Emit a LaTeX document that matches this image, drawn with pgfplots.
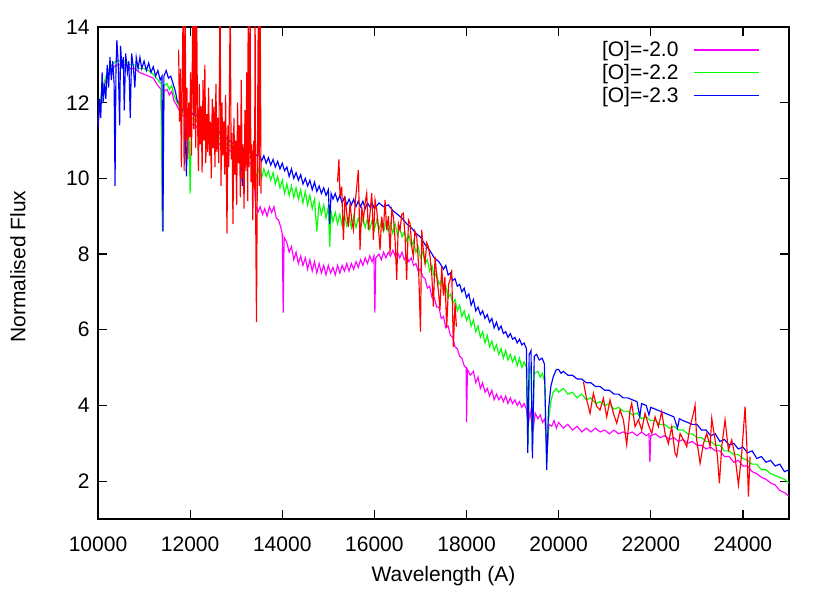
\documentclass[border=0pt]{standalone}
\usepackage{fontspec}
\setmainfont{Liberation Sans}
\usepackage{pgfplots}
\pgfplotsset{compat=1.18}
\definecolor{gpmag}{RGB}{255,0,255}
\definecolor{gpgreen}{RGB}{0,255,0}
\definecolor{gpblue}{RGB}{0,0,255}
\definecolor{gpred}{RGB}{255,0,0}
\newcommand{\bigfont}{\fontsize{21}{25}\selectfont}

\begin{document}
\begin{tikzpicture}
\begin{axis}[
  scale only axis, width=691pt, height=492pt,
  xmin=10000, xmax=25000, ymin=1, ymax=14,
  xtick={10000,12000,...,24000}, ytick={2,4,...,14},
  scaled x ticks=false,
  /pgf/number format/assume math mode=true,
  /pgf/number format/1000 sep={},
  tick align=inside, major tick length=9pt,
  every tick/.style={black, line width=1.2pt},
  axis line style={line width=1.2pt},
  tick label style={font=\bigfont},
  xlabel={Wavelength (A)}, ylabel={Normalised Flux},
  every axis x label/.style={at={(axis description cs:0.5,-0.1159)}, anchor=center, font=\bigfont},
  every axis y label/.style={at={(axis description cs:-0.1158,0.513)}, rotate=90, anchor=center, font=\bigfont},
  xticklabel style={yshift=-14pt},
  yticklabel style={xshift=-5pt},
  legend style={draw=none, fill=none, at={(1,1)}, anchor=north east,
    xshift=-29pt, yshift=-14.5pt, inner sep=0pt, column sep=15pt, row sep=6pt,
    font=\bigfont, nodes={inner sep=0pt}},
  legend plot pos=right, legend cell align=right,
  legend image code/.code={\draw[#1, line width=1.3pt] (0pt,0pt) -- (65pt,0pt);},
  every axis plot/.append style={line width=1.15pt},
]

% [O]=-2.0
\addplot[gpmag] table {
10000 11.4
10050 12.0
10100 12.3
10150 12.5
10200 12.7
10300 12.9
10400 13.0
10500 13.0
10600 13.0
10700 12.9
10800 12.9
10900 12.8
11000 12.75
11100 12.7
11200 12.65
11300 12.45
11370 12.35
11400 8.7
11430 12.3
11500 12.35
11550 12.2
11600 12.3
11650 12.05
11700 11.95
11800 11.7
11900 11.6
12000 11.45
12100 11.4
12200 11.3
12300 11.25
12400 11.15
12500 11.05
12600 10.95
12700 10.85
12800 10.8
12900 10.7
13000 10.6
13100 10.55
13200 10.45
13300 10.4
13380 10.3
13420 9.3
13470 9.1
13520 9.25
13570 9.05
13620 9.2
13670 9.0
13720 9.25
13770 9.1
13820 9.25
13870 8.95
13920 8.9
13970 8.7
14000 8.55
14020 6.45
14040 8.45
14100 8.3
14150 8.05
14200 8.2
14250 7.85
14300 8.05
14350 7.75
14400 7.95
14450 7.7
14500 7.9
14550 7.6
14600 7.85
14650 7.55
14700 7.8
14750 7.5
14800 7.75
14850 7.5
14900 7.7
14950 7.45
15000 7.7
15050 7.5
15100 7.65
15150 7.45
15200 7.7
15250 7.5
15300 7.7
15350 7.55
15400 7.75
15450 7.55
15500 7.75
15550 7.6
15600 7.8
15650 7.65
15700 7.85
15750 7.7
15800 7.9
15850 7.75
15900 7.95
15950 7.8
15990 7.95
16010 6.45
16030 7.9
16100 8.0
16150 7.85
16200 8.05
16250 7.9
16300 8.05
16350 7.95
16400 8.1
16450 7.95
16500 8.05
16550 7.9
16600 8.05
16650 7.85
16700 7.95
16750 7.8
16800 7.9
16850 7.7
16900 7.75
16950 7.55
17000 7.6
17050 7.4
17100 7.35
17150 7.1
17200 7.15
17250 6.85
17300 6.85
17350 6.6
17400 6.6
17450 6.3
17500 6.35
17550 6.05
17600 6.1
17650 5.85
17700 5.8
17750 5.55
17800 5.5
17850 5.3
17900 5.25
17950 5.05
17990 5.0
18000 3.55
18020 4.95
18080 4.8
18150 4.9
18200 4.6
18250 4.75
18300 4.45
18350 4.6
18400 4.35
18450 4.45
18500 4.25
18550 4.4
18600 4.15
18650 4.3
18700 4.15
18750 4.25
18800 4.1
18850 4.25
18900 4.05
18950 4.2
19000 4.05
19050 4.15
19100 4.0
19150 4.1
19200 3.95
19250 4.05
19300 3.9
19340 3.5
19380 3.85
19440 3.3
19490 3.8
19550 3.65
19600 3.75
19650 3.55
19700 3.65
19750 2.8
19790 3.5
19850 3.45
19900 3.6
19950 3.4
20000 3.55
20100 3.4
20200 3.5
20300 3.35
20400 3.45
20500 3.3
20600 3.4
20700 3.3
20800 3.4
20900 3.3
21000 3.35
21100 3.25
21200 3.35
21300 3.25
21400 3.3
21500 3.25
21600 3.3
21700 3.2
21800 3.3
21900 3.2
21960 3.25
21980 2.5
22000 3.2
22100 3.25
22200 3.15
22300 3.2
22400 3.1
22500 3.15
22600 3.05
22700 3.1
22800 3.0
22900 3.05
23000 2.95
23100 2.95
23200 2.85
23300 2.9
23400 2.8
23500 2.8
23600 2.65
23700 2.65
23800 2.5
23900 2.55
24000 2.4
24100 2.4
24200 2.25
24300 2.2
24400 2.1
24500 2.05
24600 1.95
24700 1.9
24800 1.75
24900 1.7
25000 1.6
};
\addlegendentry{{[O]=-2.0}}

% [O]=-2.2
\addplot[gpgreen] table {
10000 11.5
10050 12.1
10100 12.4
10150 12.6
10200 12.8
10300 13.0
10400 13.1
10500 13.1
10600 13.1
10700 13.0
10800 13.0
10900 12.9
11000 12.9
11100 12.85
11200 12.75
11300 12.6
11370 12.5
11400 8.6
11430 12.45
11500 12.5
11550 12.35
11600 12.45
11650 12.2
11700 12.05
11800 11.8
11900 11.7
11970 11.6
12000 9.6
12030 11.6
12100 11.55
12200 11.45
12300 11.35
12400 11.3
12500 11.2
12600 11.1
12700 11.0
12800 10.9
12900 10.85
13000 10.75
13100 10.7
13200 10.6
13300 10.55
13380 10.5
13420 10.2
13450 10.05
13500 10.3
13550 10.0
13600 10.25
13650 10.05
13700 10.2
13750 9.95
13800 10.15
13850 9.85
13900 10.05
13950 9.75
14000 9.95
14050 9.6
14100 9.85
14150 9.55
14200 9.8
14250 9.5
14300 9.75
14350 9.45
14400 9.7
14450 9.35
14500 9.65
14550 9.3
14600 9.55
14650 9.2
14700 9.45
14750 8.6
14800 9.35
14850 9.05
14900 9.3
14950 8.95
15000 9.25
15030 8.2
15060 9.15
15100 8.85
15150 9.1
15200 8.8
15250 9.05
15300 8.75
15350 9.05
15400 8.75
15450 9.0
15500 8.7
15550 9.0
15600 8.7
15650 8.95
15700 8.7
15750 8.95
15800 8.7
15850 8.95
15900 8.65
15950 8.9
16000 8.65
16050 8.9
16100 8.65
16150 8.85
16200 8.6
16250 8.85
16300 8.6
16350 8.8
16400 8.55
16450 8.8
16500 8.5
16550 8.7
16600 8.45
16650 8.6
16700 8.35
16750 8.5
16800 8.2
16850 8.35
16900 8.05
16950 8.2
17000 7.9
17050 8.05
17100 7.75
17150 7.85
17200 7.55
17250 7.7
17300 7.4
17350 7.5
17400 7.2
17450 7.3
17500 7.0
17550 7.15
17600 6.85
17650 6.95
17700 6.7
17750 6.8
17800 6.5
17850 6.65
17900 6.35
17950 6.5
18000 6.25
18050 6.4
18100 6.1
18150 6.25
18200 5.95
18250 6.1
18300 5.8
18350 5.95
18400 5.65
18450 5.85
18500 5.55
18550 5.7
18600 5.45
18650 5.6
18700 5.35
18750 5.5
18800 5.25
18850 5.45
18900 5.2
18950 5.35
19000 5.15
19050 5.3
19100 5.05
19150 5.25
19200 5.0
19250 5.15
19300 5.0
19330 2.9
19370 4.95
19400 5.05
19430 2.8
19470 4.85
19550 4.9
19600 4.75
19650 4.85
19700 4.6
19740 2.5
19780 3.6
19830 4.1
19880 4.35
19950 4.45
20000 4.35
20100 4.45
20200 4.3
20300 4.35
20400 4.2
20500 4.3
20600 4.15
20700 4.2
20800 4.05
20900 4.1
21000 4.0
21100 4.05
21200 3.9
21300 3.95
21400 3.85
21500 3.85
21600 3.75
21700 3.8
21800 3.65
21900 3.7
22000 3.6
22100 3.6
22200 3.5
22300 3.5
22400 3.4
22500 3.45
22600 3.35
22700 3.35
22800 3.25
22900 3.25
23000 3.15
23100 3.15
23200 3.05
23300 3.05
23400 2.95
23500 2.95
23600 2.8
23700 2.8
23800 2.7
23900 2.7
24000 2.6
24100 2.55
24200 2.45
24300 2.45
24400 2.3
24500 2.3
24600 2.2
24700 2.15
24800 2.1
24900 2.05
25000 1.95
};
\addlegendentry{{[O]=-2.2}}

% [O]=-2.3
\addplot[gpblue] table {
10000 11.3
10030 12.1
10060 11.6
10090 12.8
10110 12.0
10140 12.5
10170 12.1
10200 13.0
10230 12.4
10260 13.2
10290 12.6
10320 13.1
10350 12.5
10370 9.8
10390 12.9
10410 13.65
10440 13.0
10470 11.4
10490 13.5
10520 12.9
10550 13.2
10570 11.8
10600 13.3
10640 12.8
10670 13.1
10700 11.6
10730 13.3
10770 12.9
10800 12.4
10830 13.2
10870 12.9
10910 13.2
10950 12.9
11000 13.1
11050 12.85
11100 13.05
11150 12.8
11200 12.95
11250 12.7
11300 12.85
11350 12.6
11390 12.7
11410 8.6
11430 12.7
11480 12.85
11530 12.65
11580 12.7
11630 12.5
11680 12.3
11720 12.05
11780 11.95
11830 11.8
11880 11.85
11920 10.05
11950 11.75
12000 11.8
12050 11.7
12150 11.65
12250 11.55
12350 11.5
12450 11.4
12550 11.3
12650 11.2
12750 11.1
12850 11.0
12950 10.9
13050 10.85
13110 10.8
13130 9.8
13150 10.8
13250 10.75
13350 10.7
13450 10.6
13500 10.65
13550 10.45
13600 10.6
13650 10.4
13700 10.55
13750 10.35
13800 10.5
13850 10.3
13900 10.45
13950 10.25
14000 10.4
14050 10.2
14100 10.3
14150 10.05
14200 10.25
14250 10.0
14300 10.15
14350 9.95
14400 10.1
14450 9.85
14500 10.0
14550 9.8
14600 9.95
14650 9.7
14700 9.9
14750 9.65
14800 9.8
14850 9.6
14900 9.75
14950 9.55
15000 9.7
15030 8.8
15060 9.6
15100 9.45
15150 9.6
15200 9.4
15250 9.55
15300 9.35
15350 9.5
15400 9.3
15450 9.45
15500 9.3
15550 9.45
15600 9.25
15650 9.4
15700 9.25
15750 9.4
15800 9.2
15850 9.35
15900 9.25
15950 9.35
16000 9.2
16100 9.35
16200 9.25
16300 9.3
16400 9.15
16500 9.05
16600 8.95
16700 8.8
16800 8.7
16900 8.55
17000 8.45
17100 8.25
17200 8.1
17300 7.9
17400 7.8
17500 7.6
17550 7.7
17600 7.45
17650 7.5
17700 7.3
17750 7.35
17800 7.15
17850 7.2
17900 7.0
17950 7.1
18000 6.85
18050 6.95
18100 6.65
18150 6.8
18200 6.5
18250 6.6
18300 6.4
18350 6.5
18400 6.3
18450 6.4
18500 6.2
18550 6.3
18600 6.05
18650 6.2
18700 6.0
18750 6.1
18800 5.9
18850 5.95
18900 5.8
18950 5.9
19000 5.75
19050 5.8
19100 5.65
19150 5.75
19200 5.6
19250 5.65
19300 5.5
19330 2.75
19360 5.35
19400 5.45
19430 2.6
19470 5.3
19520 5.35
19580 5.2
19640 5.25
19690 5.1
19740 2.3
19780 3.9
19830 4.5
19880 4.75
19950 4.95
20000 4.95
20050 4.85
20100 4.9
20200 4.8
20300 4.8
20400 4.7
20500 4.7
20600 4.6
20700 4.6
20800 4.5
20900 4.5
21000 4.4
21100 4.4
21200 4.3
21300 4.3
21400 4.2
21500 4.2
21600 4.15
21700 4.1
21760 3.7
21800 4.05
21900 4.0
21960 3.75
22000 3.95
22100 3.9
22200 3.85
22300 3.8
22400 3.75
22500 3.7
22580 3.4
22620 3.65
22700 3.6
22800 3.55
22900 3.5
23000 3.5
23100 3.35
23200 3.35
23300 3.2
23400 3.25
23500 3.05
23600 3.1
23700 2.95
23800 3.0
23900 2.85
24000 2.9
24100 2.75
24200 2.8
24300 2.6
24400 2.65
24500 2.5
24600 2.55
24700 2.4
24800 2.45
24900 2.25
25000 2.3
};
\addlegendentry{{[O]=-2.3}}

% observed spectrum, three windows
\addplot[gpred, forget plot] table {
11750 13.4
11770 11.5
11790 12.9
11810 10.3
11830 12.6
11850 14.8
11870 10.2
11890 14.8
11910 11.0
11930 12.4
11950 10.5
11970 12.0
11990 11.1
12010 12.8
12030 10.6
12060 14.8
12080 11.3
12100 14.8
12120 10.8
12140 14.8
12160 11.6
12180 10.2
12200 12.5
12220 10.9
12240 11.9
12260 10.15
12280 12.6
12300 11.0
12320 13.0
12340 10.4
12360 11.7
12380 10.7
12400 12.4
12420 10.6
12440 11.5
12460 10.0
12480 12.1
12500 10.8
12520 11.9
12540 10.3
12560 12.5
12580 10.7
12600 11.6
12620 10.4
12650 14.8
12670 9.8
12690 12.0
12710 10.6
12730 11.5
12750 10.1
12770 12.2
12800 8.55
12820 11.4
12840 10.3
12870 14.8
12890 10.5
12910 11.2
12930 8.8
12950 11.6
12970 10.1
12990 11.0
13010 9.3
13030 12.0
13050 10.4
13070 11.4
13090 9.5
13110 12.6
13130 10.0
13150 10.9
13170 9.2
13190 11.8
13210 10.2
13230 12.8
13250 9.4
13260 14.8
13280 10.3
13300 14.8
13320 9.9
13340 10.9
13360 8.9
13380 11.0
13400 9.7
13410 14.8
13420 9.5
13440 6.2
13460 10.4
13480 14.8
13500 9.8
13520 14.8
13540 9.6
};
\addplot[gpred, forget plot] table {
15200 9.9
15230 10.5
15254 9.52
15290 9.78
15327 8.37
15363 9.52
15399 9.08
15435 8.72
15471 9.34
15508 8.9
15544 8.64
15580 9.3
15616 9.78
15652 10.22
15688 8.11
15725 9.25
15761 8.90
15797 9.34
15833 9.61
15869 8.64
15905 9.08
15942 9.61
15978 8.37
16014 9.43
16050 9.17
16087 8.7
16123 8.11
16159 8.99
16195 8.6
16231 9.43
16267 8.64
16304 9.0
16340 8.02
16376 9.17
16412 8.99
16448 8.4
16484 7.32
16520 8.81
16557 8.64
16593 9.05
16629 9.08
16665 8.5
16700 7.32
16740 8.9
16774 8.81
16810 8.2
16846 7.93
16880 8.6
16919 8.46
16955 7.8
17000 5.95
17027 8.64
17063 8.1
17100 7.76
17136 8.3
17172 8.2
17207 7.93
17244 7.49
17280 6.61
17317 7.93
17353 7.4
17389 7.05
17424 6.52
17461 7.67
17500 6.9
17530 7.4
17570 6.08
17610 7.2
17643 7.32
17678 7.58
17714 5.55
17750 6.7
17780 6.08
};
\addplot[gpred, forget plot] table {
20537 4.63
20609 4.15
20681 3.79
20754 4.32
20826 3.97
20898 3.88
20971 4.19
21043 3.70
21115 4.15
21188 3.79
21260 3.53
21333 3.88
21405 3.62
21477 2.96
21550 3.88
21586 4.06
21658 3.44
21731 3.62
21803 3.35
21875 3.79
21948 3.49
22020 3.26
22092 3.70
22165 3.44
22237 3.84
22309 3.26
22382 2.99
22454 3.44
22526 2.74
22563 2.65
22635 3.26
22708 3.09
22780 2.91
22852 3.44
22925 3.79
22961 4.01
22997 3.09
23070 2.47
23142 2.99
23214 3.26
23287 2.91
23323 3.66
23395 3.09
23446 2.65
23489 1.94
23540 2.91
23612 3.62
23685 2.82
23757 3.09
23829 2.65
23902 1.90
23974 2.74
24047 3.97
24083 2.99
24119 1.59
24155 2.65
};
\end{axis}
\path (-98pt,-74pt) rectangle (732pt,519pt);
\end{tikzpicture}
\end{document}
